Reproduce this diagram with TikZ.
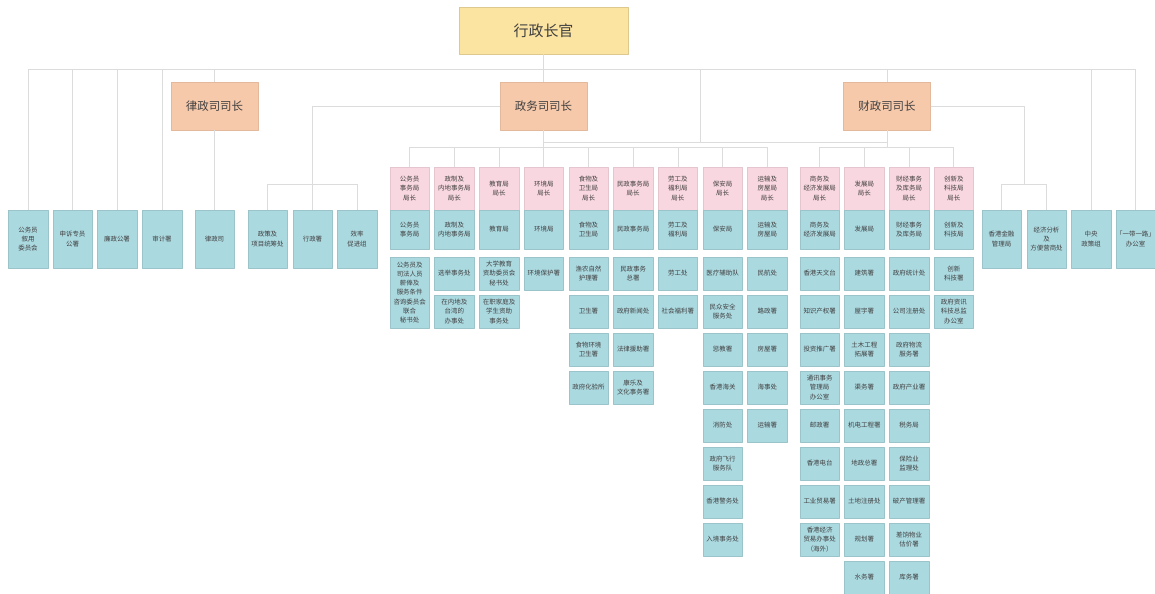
\documentclass[tikz,border=0pt]{standalone}
\usepackage{fontspec}
\usepackage{tikz}
\newfontfamily\cjk{Noto Sans CJK SC}
\definecolor{ceyellow}{HTML}{FBE3A1}
\definecolor{secorange}{HTML}{F7C9AB}
\definecolor{headpink}{HTML}{F9D7E0}
\definecolor{bureaublue}{HTML}{ABD9E0}
\definecolor{linegray}{HTML}{DCDCDC}
\definecolor{textgray}{HTML}{404040}
\begin{document}
\begin{tikzpicture}[line join=bevel,
  every node/.style={inner sep=0pt,align=center,text=textgray},
  chief/.style={draw=ceyellow!88!black,fill=ceyellow,minimum width=169bp,minimum height=47bp,font=\cjk\fontsize{15}{18}\selectfont},
  sec/.style={draw=secorange!92!black,fill=secorange,minimum width=87bp,minimum height=48bp,font=\cjk\fontsize{11.5}{14}\selectfont},
  head/.style={draw=headpink!92!black,fill=headpink,minimum width=39.5bp,minimum height=43bp,font=\cjk\fontsize{6.5}{9.2}\selectfont},
  bureau/.style={draw=bureaublue!90!black,fill=bureaublue,minimum width=39.5bp,minimum height=39bp,font=\cjk\fontsize{6.5}{9.2}\selectfont},
  dept/.style={draw=bureaublue!90!black,fill=bureaublue,minimum width=39.5bp,minimum height=33bp,font=\cjk\fontsize{6.5}{9.2}\selectfont},
  unit/.style={draw=bureaublue!90!black,fill=bureaublue,minimum width=39.5bp,minimum height=58bp,font=\cjk\fontsize{6.5}{9.2}\selectfont},
  link/.style={draw=linegray,line width=0.8bp}]
\useasboundingbox (0bp,0bp) rectangle (1155bp,-594bp);
%%
\node (node_ce) at (543.5bp,-30.5bp) [chief] {行政长官};
\node (node_sj) at (214.5bp,-106bp) [sec] {律政司司长};
\node (node_cs) at (543.5bp,-106bp) [sec] {政务司司长};
\node (node_fs) at (887bp,-106bp) [sec] {财政司司长};
%
\node (node_psc) at (28bp,-239bp) [unit] {公务员\\叙用\\委员会};
\node (node_omb) at (72.5bp,-239bp) [unit] {申诉专员\\公署};
\node (node_icac) at (117bp,-239bp) [unit] {廉政公署};
\node (node_aud) at (162bp,-239bp) [unit] {审计署};
\node (node_doj) at (214.5bp,-239bp) [unit] {律政司};
\node (node_pico) at (267.5bp,-239bp) [unit] {政策及\\项目统筹处};
\node (node_adm) at (312.5bp,-239bp) [unit] {行政署};
\node (node_eu) at (357bp,-239bp) [unit] {效率\\促进组};
\node (node_hkma) at (1001.5bp,-239bp) [unit] {香港金融\\管理局};
\node (node_eafa) at (1046.5bp,-239bp) [unit] {经济分析\\及\\方便营商处};
\node (node_cpu) at (1091bp,-239bp) [unit] {中央\\政策组};
\node (node_bro) at (1135.5bp,-239bp) [unit] {「一带一路」\\办公室};
%
\node (node_h1) at (409.7bp,-188.5bp) [head] {公务员\\事务局\\局长};
\node (node_b1) at (409.7bp,-229.5bp) [bureau] {公务员\\事务局};
\node (node_d1_1) at (409.7bp,-292.5bp) [dept,minimum height=71bp] {公务员及\\司法人员\\薪俸及\\服务条件\\咨询委员会\\联合\\秘书处};
%
\node (node_h2) at (454.4bp,-188.5bp) [head] {政制及\\内地事务局\\局长};
\node (node_b2) at (454.4bp,-229.5bp) [bureau] {政制及\\内地事务局};
\node (node_d2_1) at (454.4bp,-273.5bp) [dept] {选举事务处};
\node (node_d2_2) at (454.4bp,-311.5bp) [dept] {在内地及\\台湾的\\办事处};
%
\node (node_h3) at (499.1bp,-188.5bp) [head] {教育局\\局长};
\node (node_b3) at (499.1bp,-229.5bp) [bureau] {教育局};
\node (node_d3_1) at (499.1bp,-273.5bp) [dept] {大学教育\\资助委员会\\秘书处};
\node (node_d3_2) at (499.1bp,-311.5bp) [dept] {在职家庭及\\学生资助\\事务处};
%
\node (node_h4) at (543.8bp,-188.5bp) [head] {环境局\\局长};
\node (node_b4) at (543.8bp,-229.5bp) [bureau] {环境局};
\node (node_d4_1) at (543.8bp,-273.5bp) [dept] {环境保护署};
%
\node (node_h5) at (588.5bp,-188.5bp) [head] {食物及\\卫生局\\局长};
\node (node_b5) at (588.5bp,-229.5bp) [bureau] {食物及\\卫生局};
\node (node_d5_1) at (588.5bp,-273.5bp) [dept] {渔农自然\\护理署};
\node (node_d5_2) at (588.5bp,-311.5bp) [dept] {卫生署};
\node (node_d5_3) at (588.5bp,-349.5bp) [dept] {食物环境\\卫生署};
\node (node_d5_4) at (588.5bp,-387.5bp) [dept] {政府化验所};
%
\node (node_h6) at (633.2bp,-188.5bp) [head] {民政事务局\\局长};
\node (node_b6) at (633.2bp,-229.5bp) [bureau] {民政事务局};
\node (node_d6_1) at (633.2bp,-273.5bp) [dept] {民政事务\\总署};
\node (node_d6_2) at (633.2bp,-311.5bp) [dept] {政府新闻处};
\node (node_d6_3) at (633.2bp,-349.5bp) [dept] {法律援助署};
\node (node_d6_4) at (633.2bp,-387.5bp) [dept] {康乐及\\文化事务署};
%
\node (node_h7) at (677.9bp,-188.5bp) [head] {劳工及\\福利局\\局长};
\node (node_b7) at (677.9bp,-229.5bp) [bureau] {劳工及\\福利局};
\node (node_d7_1) at (677.9bp,-273.5bp) [dept] {劳工处};
\node (node_d7_2) at (677.9bp,-311.5bp) [dept] {社会福利署};
%
\node (node_h8) at (722.6bp,-188.5bp) [head] {保安局\\局长};
\node (node_b8) at (722.6bp,-229.5bp) [bureau] {保安局};
\node (node_d8_1) at (722.6bp,-273.5bp) [dept] {医疗辅助队};
\node (node_d8_2) at (722.6bp,-311.5bp) [dept] {民众安全\\服务处};
\node (node_d8_3) at (722.6bp,-349.5bp) [dept] {惩教署};
\node (node_d8_4) at (722.6bp,-387.5bp) [dept] {香港海关};
\node (node_d8_5) at (722.6bp,-425.5bp) [dept] {消防处};
\node (node_d8_6) at (722.6bp,-463.5bp) [dept] {政府飞行\\服务队};
\node (node_d8_7) at (722.6bp,-501.5bp) [dept] {香港警务处};
\node (node_d8_8) at (722.6bp,-539.5bp) [dept] {入境事务处};
%
\node (node_h9) at (767.3bp,-188.5bp) [head] {运输及\\房屋局\\局长};
\node (node_b9) at (767.3bp,-229.5bp) [bureau] {运输及\\房屋局};
\node (node_d9_1) at (767.3bp,-273.5bp) [dept] {民航处};
\node (node_d9_2) at (767.3bp,-311.5bp) [dept] {路政署};
\node (node_d9_3) at (767.3bp,-349.5bp) [dept] {房屋署};
\node (node_d9_4) at (767.3bp,-387.5bp) [dept] {海事处};
\node (node_d9_5) at (767.3bp,-425.5bp) [dept] {运输署};
%
\node (node_h10) at (819.7bp,-188.5bp) [head] {商务及\\经济发展局\\局长};
\node (node_b10) at (819.7bp,-229.5bp) [bureau] {商务及\\经济发展局};
\node (node_d10_1) at (819.7bp,-273.5bp) [dept] {香港天文台};
\node (node_d10_2) at (819.7bp,-311.5bp) [dept] {知识产权署};
\node (node_d10_3) at (819.7bp,-349.5bp) [dept] {投资推广署};
\node (node_d10_4) at (819.7bp,-387.5bp) [dept] {通讯事务\\管理局\\办公室};
\node (node_d10_5) at (819.7bp,-425.5bp) [dept] {邮政署};
\node (node_d10_6) at (819.7bp,-463.5bp) [dept] {香港电台};
\node (node_d10_7) at (819.7bp,-501.5bp) [dept] {工业贸易署};
\node (node_d10_8) at (819.7bp,-539.5bp) [dept] {香港经济\\贸易办事处\\（海外）};
%
\node (node_h11) at (864.4bp,-188.5bp) [head] {发展局\\局长};
\node (node_b11) at (864.4bp,-229.5bp) [bureau] {发展局};
\node (node_d11_1) at (864.4bp,-273.5bp) [dept] {建筑署};
\node (node_d11_2) at (864.4bp,-311.5bp) [dept] {屋宇署};
\node (node_d11_3) at (864.4bp,-349.5bp) [dept] {土木工程\\拓展署};
\node (node_d11_4) at (864.4bp,-387.5bp) [dept] {渠务署};
\node (node_d11_5) at (864.4bp,-425.5bp) [dept] {机电工程署};
\node (node_d11_6) at (864.4bp,-463.5bp) [dept] {地政总署};
\node (node_d11_7) at (864.4bp,-501.5bp) [dept] {土地注册处};
\node (node_d11_8) at (864.4bp,-539.5bp) [dept] {规划署};
\node (node_d11_9) at (864.4bp,-577.5bp) [dept] {水务署};
%
\node (node_h12) at (909.1bp,-188.5bp) [head] {财经事务\\及库务局\\局长};
\node (node_b12) at (909.1bp,-229.5bp) [bureau] {财经事务\\及库务局};
\node (node_d12_1) at (909.1bp,-273.5bp) [dept] {政府统计处};
\node (node_d12_2) at (909.1bp,-311.5bp) [dept] {公司注册处};
\node (node_d12_3) at (909.1bp,-349.5bp) [dept] {政府物流\\服务署};
\node (node_d12_4) at (909.1bp,-387.5bp) [dept] {政府产业署};
\node (node_d12_5) at (909.1bp,-425.5bp) [dept] {税务局};
\node (node_d12_6) at (909.1bp,-463.5bp) [dept] {保险业\\监理处};
\node (node_d12_7) at (909.1bp,-501.5bp) [dept] {破产管理署};
\node (node_d12_8) at (909.1bp,-539.5bp) [dept] {差饷物业\\估价署};
\node (node_d12_9) at (909.1bp,-577.5bp) [dept] {库务署};
%
\node (node_h13) at (953.8bp,-188.5bp) [head] {创新及\\科技局\\局长};
\node (node_b13) at (953.8bp,-229.5bp) [bureau] {创新及\\科技局};
\node (node_d13_1) at (953.8bp,-273.5bp) [dept] {创新\\科技署};
\node (node_d13_2) at (953.8bp,-311.5bp) [dept] {政府资讯\\科技总监\\办公室};
%%
\coordinate (top_bus) at (0bp,-69bp);
\coordinate (mid_bus) at (700bp,-142bp);
\coordinate (cs_bus) at (0bp,-147bp);
\coordinate (cs_left) at (0bp,-184bp);
\coordinate (fs_right) at (1024bp,-184bp);
%
\draw [link] (node_ce) -- (node_ce |- top_bus);
\draw [link] (node_psc |- top_bus) -- (node_bro |- top_bus);
\draw [link] (node_psc |- top_bus) -- (node_psc);
\draw [link] (node_omb |- top_bus) -- (node_omb);
\draw [link] (node_icac |- top_bus) -- (node_icac);
\draw [link] (node_aud |- top_bus) -- (node_aud);
\draw [link] (node_sj |- top_bus) -- (node_sj);
\draw [link] (node_sj) -- (node_doj);
\draw [link] (node_cs |- top_bus) -- (node_cs);
\draw [link] (node_fs |- top_bus) -- (node_fs);
\draw [link] (node_cpu |- top_bus) -- (node_cpu);
\draw [link] (node_bro |- top_bus) -- (node_bro);
\draw [link] (mid_bus |- top_bus) -- (mid_bus);
\draw [link] (node_cs |- mid_bus) -- (node_fs |- mid_bus);
%
\draw [link] (node_cs.west) -| (node_adm);
\draw [link] (node_pico |- cs_left) -- (node_eu |- cs_left);
\draw [link] (node_pico |- cs_left) -- (node_pico);
\draw [link] (node_eu |- cs_left) -- (node_eu);
%
\draw [link] (node_fs.east) -| (fs_right);
\draw [link] (node_hkma |- fs_right) -- (node_eafa |- fs_right);
\draw [link] (node_hkma |- fs_right) -- (node_hkma);
\draw [link] (node_eafa |- fs_right) -- (node_eafa);
%
\draw [link] (node_cs) -- (node_cs |- cs_bus);
\draw [link] (node_h1 |- cs_bus) -- (node_h9 |- cs_bus);
\draw [link] (node_fs) -- (node_fs |- cs_bus);
\draw [link] (node_h10 |- cs_bus) -- (node_h13 |- cs_bus);
\draw [link] (node_h1 |- cs_bus) -- (node_h1);
\draw [link] (node_h2 |- cs_bus) -- (node_h2);
\draw [link] (node_h3 |- cs_bus) -- (node_h3);
\draw [link] (node_h4 |- cs_bus) -- (node_h4);
\draw [link] (node_h5 |- cs_bus) -- (node_h5);
\draw [link] (node_h6 |- cs_bus) -- (node_h6);
\draw [link] (node_h7 |- cs_bus) -- (node_h7);
\draw [link] (node_h8 |- cs_bus) -- (node_h8);
\draw [link] (node_h9 |- cs_bus) -- (node_h9);
\draw [link] (node_h10 |- cs_bus) -- (node_h10);
\draw [link] (node_h11 |- cs_bus) -- (node_h11);
\draw [link] (node_h12 |- cs_bus) -- (node_h12);
\draw [link] (node_h13 |- cs_bus) -- (node_h13);
%
\end{tikzpicture}
\end{document}
